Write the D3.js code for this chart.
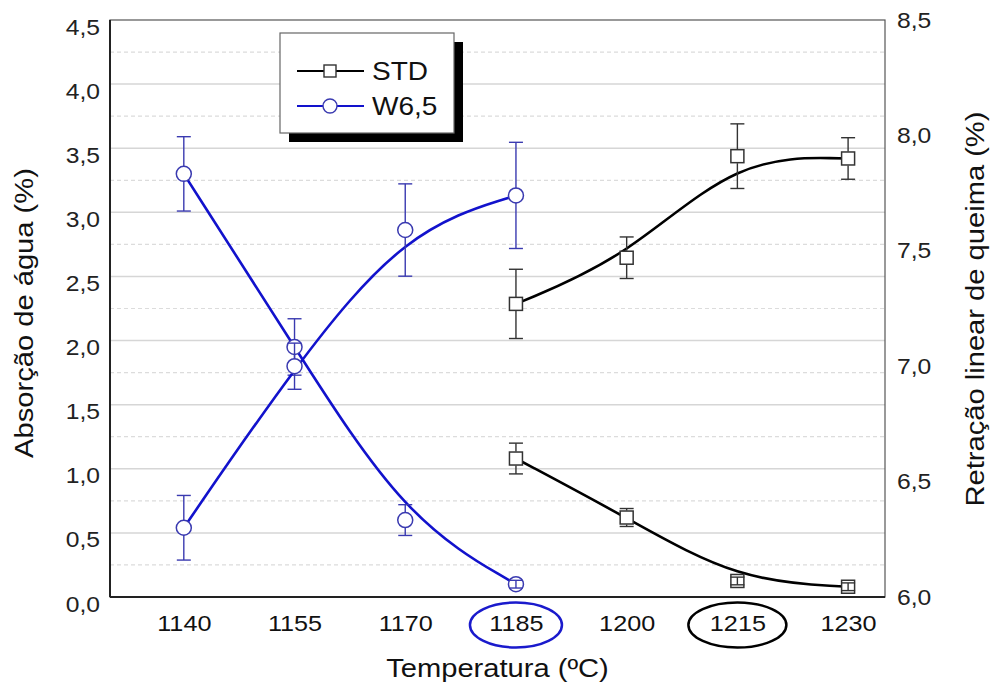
<!DOCTYPE html>
<html><head><meta charset="utf-8">
<script src="https://cdn.jsdelivr.net/npm/d3@7"></script>
<style>body{margin:0;background:#fff;} text{font-family:"Liberation Sans",Arial,sans-serif;}</style>
</head><body>
<svg id="chart" width="994" height="687"></svg>
<script>
const temperatures = [1140, 1155, 1170, 1185, 1200, 1215, 1230];
const leftTicks = [0, 0.5, 1, 1.5, 2, 2.5, 3, 3.5, 4, 4.5];
const rightTicks = [6.0, 6.5, 7.0, 7.5, 8.0, 8.5];

const stdTemps = [1185, 1200, 1215, 1230];
const stdAbsorption = [1.08, 0.62, 0.125, 0.08];
const stdAbsorptionErr = [0.12, 0.07, 0.03, 0.03];
const stdShrinkage = [7.27, 7.47, 7.91, 7.90];
const stdShrinkageErr = [0.15, 0.09, 0.14, 0.09];

const w65Temps = [1140, 1155, 1170, 1185];
const w65Absorption = [3.3, 1.95, 0.6, 0.10];
const w65AbsorptionErr = [0.29, 0.22, 0.12, 0.03];
const w65Shrinkage = [6.30, 7.00, 7.59, 7.74];
const w65ShrinkageErr = [0.14, 0.10, 0.20, 0.23];

const legendNames = ["STD", "W6,5"];
const highlighted = [{t: 1185, c: "#1a1acc"}, {t: 1215, c: "#000"}];

const W = 994, H = 687;
const m = {left: 110, right: 885, top: 20, bottom: 597};
const svg = d3.select("#chart");

const x = d3.scaleLinear().domain([1130, 1235]).range([m.left, m.right]);
const yL = d3.scaleLinear().domain([0, 4.5]).range([m.bottom, m.top]);
const yR = d3.scaleLinear().domain([6.0, 8.5]).range([m.bottom, m.top]);
const fmt = v => d3.format(".1f")(v).replace(".", ",");

// gridlines
const minor = d3.range(0.25, 4.5, 0.5);
svg.append("g").selectAll("line").data(minor).join("line")
  .attr("x1", m.left).attr("x2", m.right)
  .attr("y1", d => yL(d)).attr("y2", d => yL(d))
  .attr("stroke", "#dcdcdc").attr("stroke-width", 1.2).attr("stroke-dasharray", "4,3");
svg.append("g").selectAll("line").data(leftTicks.slice(1, -1)).join("line")
  .attr("x1", m.left).attr("x2", m.right)
  .attr("y1", d => yL(d)).attr("y2", d => yL(d))
  .attr("stroke", "#d6d6d6").attr("stroke-width", 1.5);

// frame
svg.append("rect").attr("x", m.left).attr("y", m.top)
  .attr("width", m.right - m.left).attr("height", m.bottom - m.top)
  .attr("fill", "none").attr("stroke", "#555").attr("stroke-width", 1.2);
svg.append("line").attr("x1", m.left).attr("x2", m.left).attr("y1", m.top).attr("y2", m.bottom)
  .attr("stroke", "#222").attr("stroke-width", 2);
svg.append("line").attr("x1", m.left).attr("x2", m.right).attr("y1", m.bottom).attr("y2", m.bottom)
  .attr("stroke", "#222").attr("stroke-width", 2);

// axes (labels only)
const axL = svg.append("g").attr("transform", `translate(${m.left},0)`)
  .call(d3.axisLeft(yL).tickValues(leftTicks).tickFormat(fmt).tickSize(0).tickPadding(10));
axL.select(".domain").remove();
axL.selectAll("text").attr("font-size", 22).attr("fill", "#222").attr("dy", "0.32em")
  .attr("transform", "translate(0,7)");
const axR = svg.append("g").attr("transform", `translate(${m.right},0)`)
  .call(d3.axisRight(yR).tickValues(rightTicks).tickFormat(fmt).tickSize(0).tickPadding(12));
axR.select(".domain").remove();
axR.selectAll("text").attr("font-size", 22).attr("fill", "#222");
const axB = svg.append("g").attr("transform", `translate(0,${m.bottom})`)
  .call(d3.axisBottom(x).tickValues(temperatures).tickFormat(d3.format("d")).tickSize(0).tickPadding(18));
axB.select(".domain").remove();
axB.selectAll("text").attr("font-size", 22.5).attr("fill", "#111");

// highlight ellipses
svg.append("g").selectAll("ellipse").data(highlighted).join("ellipse")
  .attr("cx", d => x(d.t)).attr("cy", m.bottom + 28)
  .attr("rx", d => d.t === 1185 ? 46 : 49).attr("ry", 22.5)
  .attr("fill", "none").attr("stroke", d => d.c).attr("stroke-width", 2.5);

// titles
svg.append("text").attr("transform", `translate(33,313) rotate(-90)`)
  .attr("text-anchor", "middle").attr("font-size", 26).attr("fill", "#111").text("Absorção de água (%)");
svg.append("text").attr("transform", `translate(984,309) rotate(-90)`)
  .attr("text-anchor", "middle").attr("font-size", 26).attr("fill", "#111").text("Retração linear de queima (%)");
svg.append("text").attr("x", (m.left + m.right) / 2).attr("y", 677)
  .attr("text-anchor", "middle").attr("font-size", 26).attr("fill", "#111").text("Temperatura (ºC)");

// series
const series = [
  {temps: w65Temps, vals: w65Absorption, errs: w65AbsorptionErr, y: yL, line: "#1212cc", mk: "#3a3ab0", shape: "circle"},
  {temps: w65Temps, vals: w65Shrinkage, errs: w65ShrinkageErr, y: yR, line: "#1212cc", mk: "#3a3ab0", shape: "circle"},
  {temps: stdTemps, vals: stdAbsorption, errs: stdAbsorptionErr, y: yL, line: "#000", mk: "#333", shape: "square"},
  {temps: stdTemps, vals: stdShrinkage, errs: stdShrinkageErr, y: yR, line: "#000", mk: "#333", shape: "square"}
];
const half = 7;
series.forEach(s => {
  const pts = s.temps.map((t, i) => ({t, v: s.vals[i], e: s.errs[i]}));
  const line = d3.line().x(d => x(d.t)).y(d => s.y(d.v)).curve(d3.curveBasis);
  svg.append("path").datum(pts).attr("d", line).attr("fill", "none")
    .attr("stroke", s.line).attr("stroke-width", 2.6);
  const g = svg.append("g");
  pts.forEach(p => {
    const cx = x(p.t), cy = s.y(p.v);
    if (s.shape === "circle") {
      g.append("circle").attr("cx", cx).attr("cy", cy).attr("r", 7.5)
        .attr("fill", "#fff").attr("stroke", s.mk).attr("stroke-width", 1.5);
    } else {
      g.append("rect").attr("x", cx - 6.5).attr("y", cy - 6.5).attr("width", 13).attr("height", 13)
        .attr("fill", "#fff").attr("stroke", s.mk).attr("stroke-width", 1.5);
    }
  });
  pts.forEach(p => {
    const cx = x(p.t), cy = s.y(p.v), yt = s.y(p.v + p.e), yb = s.y(p.v - p.e);
    const seg = (x1, y1, x2, y2) => g.append("line").attr("x1", x1).attr("y1", y1).attr("x2", x2).attr("y2", y2)
      .attr("stroke", s.mk).attr("stroke-width", 1.4);
    if (cy - yt > half + 1) { seg(cx, yt, cx, cy - half); seg(cx, cy + half, cx, yb); }
    else seg(cx, yt, cx, yb);
    seg(cx - 7, yt, cx + 7, yt);
    seg(cx - 7, yb, cx + 7, yb);
  });
});

// legend
const lg = svg.append("g");
lg.append("rect").attr("x", 289).attr("y", 42).attr("width", 174).attr("height", 100).attr("fill", "#000");
lg.append("rect").attr("x", 280).attr("y", 33).attr("width", 174).attr("height", 100)
  .attr("fill", "#fff").attr("stroke", "#666").attr("stroke-width", 1.2);
legendNames.forEach((n, i) => {
  const yy = 71 + i * 35;
  const col = i === 0 ? "#000" : "#1212cc";
  const mk = i === 0 ? "#333" : "#3a3ab0";
  lg.append("line").attr("x1", 297).attr("x2", 364).attr("y1", yy).attr("y2", yy)
    .attr("stroke", col).attr("stroke-width", 2);
  if (i === 0) lg.append("rect").attr("x", 324).attr("y", yy - 6).attr("width", 12).attr("height", 12)
    .attr("fill", "#fff").attr("stroke", mk).attr("stroke-width", 1.4);
  else lg.append("circle").attr("cx", 330).attr("cy", yy).attr("r", 7)
    .attr("fill", "#fff").attr("stroke", mk).attr("stroke-width", 1.4);
  lg.append("text").attr("x", 372).attr("y", yy).attr("dy", "0.35em")
    .attr("font-size", 25).attr("fill", "#111").text(n);
});

// the reference typeface is slightly wider than Liberation Sans
svg.selectAll("text").each(function () {
  const l = this.getComputedTextLength();
  this.setAttribute("textLength", (l * 1.12).toFixed(1));
  this.setAttribute("lengthAdjust", "spacingAndGlyphs");
});
</script>
</body></html>
